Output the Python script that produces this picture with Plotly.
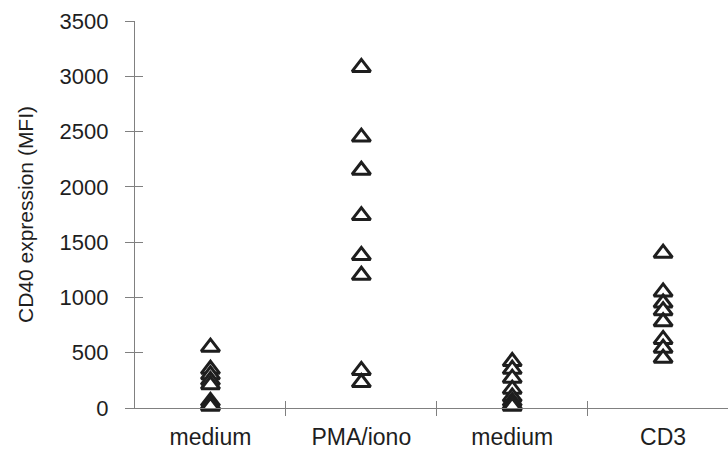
import plotly.graph_objects as go

# Groups shown along the x axis
categories = ["medium", "PMA/iono", "medium", "CD3"]

# CD40 expression (MFI) per donor in each condition
medium_1 = [550, 350, 300, 250, 210, 60, 30, 15]
pma_iono = [3080, 2450, 2150, 1740, 1380, 1200, 340, 230]
medium_2 = [420, 350, 270, 170, 100, 60, 30, 15]
cd3 = [1400, 1050, 950, 880, 780, 620, 540, 450]

y_ticks = [0, 500, 1000, 1500, 2000, 2500, 3000, 3500]

groups = [medium_1, pma_iono, medium_2, cd3]

FONT = "Liberation Sans, Arial, Helvetica, sans-serif"
AXIS = "#808080"
INK = "#1e1e1e"

fig = go.Figure()
for i, vals in enumerate(groups):
    fig.add_trace(go.Scatter(
        x=[i] * len(vals),
        y=vals,
        mode="markers",
        marker=dict(symbol="triangle-up", size=16, color="white",
                    line=dict(color=INK, width=3)),
        cliponaxis=False,
        showlegend=False,
        hoverinfo="y",
    ))

x_range = [-0.5, 3.43]
bounds = [0.5, 1.5, 2.5]

fig.update_layout(
    width=728,
    height=450,
    margin=dict(l=135, r=0, t=21, b=42),
    paper_bgcolor="white",
    plot_bgcolor="white",
    font=dict(family=FONT, color=INK),
    xaxis=dict(
        range=x_range,
        tickvals=list(range(len(categories))),
        ticktext=categories,
        ticks="",
        showgrid=False,
        zeroline=False,
        showline=True,
        linecolor=AXIS,
        linewidth=1.2,
        tickfont=dict(size=23, family=FONT, color=INK),
        ticklabelstandoff=8,
    ),
    # crossing tick marks between groups
    xaxis2=dict(
        range=x_range, overlaying="x", anchor="y", side="bottom",
        tickvals=bounds, ticks="outside", ticklen=7, tickcolor=AXIS, tickwidth=1.2,
        showticklabels=False, showgrid=False, zeroline=False, showline=False,
    ),
    xaxis3=dict(
        range=x_range, overlaying="x", anchor="y", side="bottom",
        tickvals=bounds, ticks="inside", ticklen=7, tickcolor=AXIS, tickwidth=1.2,
        showticklabels=False, showgrid=False, zeroline=False, showline=False,
    ),
    yaxis=dict(
        range=[0, 3500],
        tickvals=y_ticks,
        ticks="outside",
        ticklen=9,
        tickcolor=AXIS,
        tickwidth=1.2,
        showgrid=False,
        zeroline=False,
        showline=True,
        linecolor=AXIS,
        linewidth=1.2,
        tickfont=dict(size=22, family=FONT, color=INK),
        ticklabelstandoff=12,
        title=dict(text="CD40 expression (MFI)", font=dict(size=21, family=FONT, color=INK), standoff=20),
    ),
    yaxis2=dict(
        range=[0, 3500], overlaying="y", anchor="x", side="left",
        tickvals=y_ticks, ticks="inside", ticklen=8, tickcolor=AXIS, tickwidth=1.2,
        showticklabels=False, showgrid=False, zeroline=False, showline=False,
    ),
)

# invisible traces to attach the overlay axes
fig.add_trace(go.Scatter(x=[None], y=[None], xaxis="x2", yaxis="y", showlegend=False, hoverinfo="skip"))
fig.add_trace(go.Scatter(x=[None], y=[None], xaxis="x3", yaxis="y", showlegend=False, hoverinfo="skip"))
fig.add_trace(go.Scatter(x=[None], y=[None], xaxis="x", yaxis="y2", showlegend=False, hoverinfo="skip"))

fig.write_html("out.html")
